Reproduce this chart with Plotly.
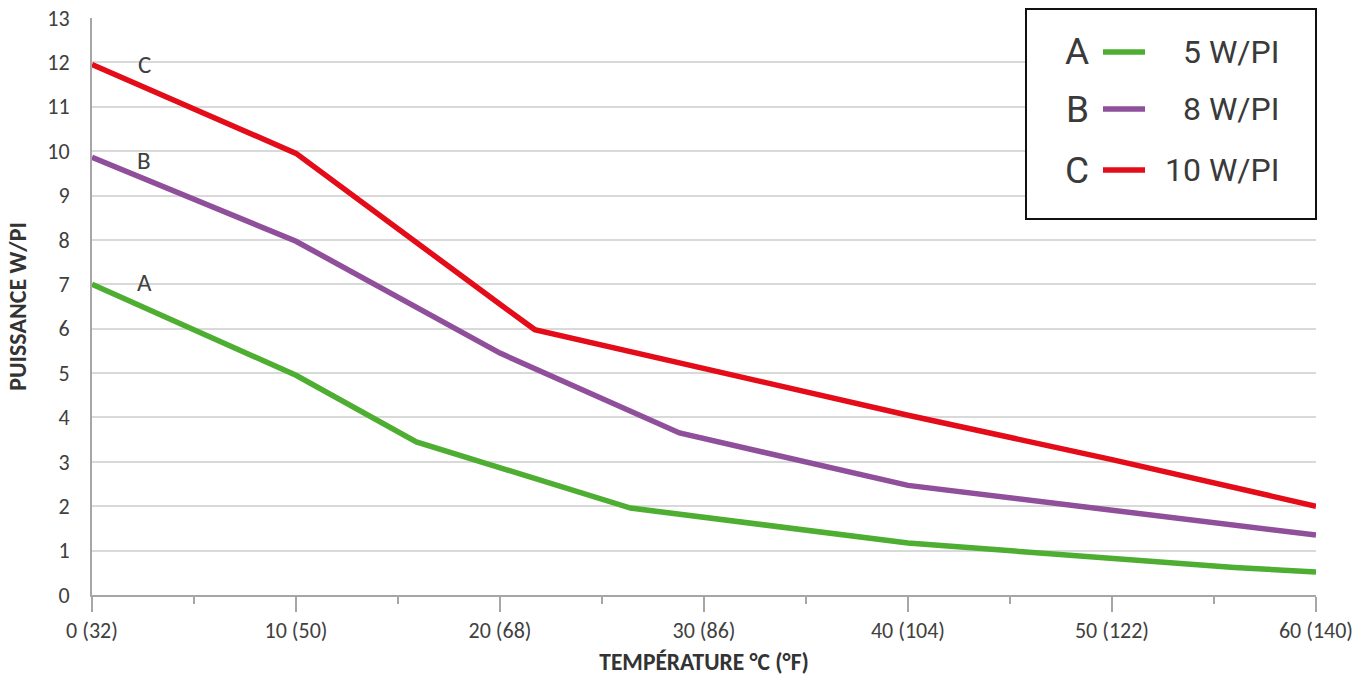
import plotly.graph_objects as go

# ---- data ----
temp_a = [0, 10, 15.9, 26.4, 40, 50, 56, 60]
power_a = [7.0, 4.95, 3.45, 1.96, 1.17, 0.83, 0.62, 0.52]

temp_b = [0, 10, 20, 28.8, 40, 50, 60]
power_b = [9.86, 7.97, 5.45, 3.65, 2.47, 1.92, 1.35]

temp_c = [0, 10, 20, 21.7, 40, 50, 60]
power_c = [11.95, 9.95, 6.55, 5.98, 4.05, 3.05, 2.0]

series_letters = ["A", "B", "C"]
series_names = ["5 W/PI", "8 W/PI", "10 W/PI"]
series_colors = ["#4dae32", "#8f4f9a", "#e30c18"]
label_pos_x = [2.55, 2.55, 2.55]
label_pos_y = [7.05, 9.8, 11.95]

x_tickvals = [0, 10, 20, 30, 40, 50, 60]
x_ticktext = ["0 (32)", "10 (50)", "20 (68)", "30 (86)", "40 (104)", "50 (122)", "60 (140)"]
y_tickvals = list(range(0, 14))

W, H = 1369, 679
ML, MR, MT, MB = 92, 53, 18, 84
PW = W - ML - MR
PH = H - MT - MB


def px_x(p):
    return (p - ML) / PW


def px_y(p):
    return (H - MB - p) / PH


xs = [temp_a, temp_b, temp_c]
ys = [power_a, power_b, power_c]

fig = go.Figure()
for i in range(3):
    fig.add_trace(go.Scatter(
        x=xs[i], y=ys[i], mode="lines", name=series_names[i],
        line=dict(color=series_colors[i], width=5.5),
        showlegend=False, hoverinfo="x+y",
    ))

FONT = "Carlito, Calibri, Lato, sans-serif"
tick_font = dict(family=FONT, size=22, color="#404040")

# series letters on the chart
for i in range(3):
    fig.add_annotation(x=label_pos_x[i], y=label_pos_y[i], text=series_letters[i],
                       xanchor="center", yanchor="middle",
                       showarrow=False, font=dict(family=FONT, size=25, color="#404040"))

# custom legend (letter, line sample, label) inside a black box
fig.add_shape(type="rect", xref="paper", yref="paper",
              x0=px_x(1026), x1=px_x(1316), y0=px_y(219), y1=px_y(9),
              line=dict(color="#111111", width=2), fillcolor="white", layer="above")
legend_rows_px = [52, 109, 170]
for i in range(3):
    yc = px_y(legend_rows_px[i])
    fig.add_annotation(xref="paper", yref="paper", x=px_x(1077), y=yc,
                       xanchor="center", yanchor="middle",
                       text=series_letters[i], showarrow=False,
                       font=dict(family="Roboto, sans-serif", size=37, color="#3a3a3a"))
    fig.add_shape(type="line", xref="paper", yref="paper",
                  x0=px_x(1103), x1=px_x(1145), y0=yc, y1=yc,
                  line=dict(color=series_colors[i], width=5.5), layer="above")
    fig.add_annotation(xref="paper", yref="paper", x=px_x(1281), y=yc,
                       xanchor="right", yanchor="middle",
                       text=series_names[i], showarrow=False,
                       font=dict(family="Roboto, sans-serif", size=32, color="#3a3a3a"))

fig.update_layout(
    width=W, height=H,
    margin=dict(l=ML, r=MR, t=MT, b=MB, autoexpand=False),
    plot_bgcolor="white", paper_bgcolor="white",
    showlegend=False,
)
fig.update_xaxes(
    range=[0, 60], tickvals=x_tickvals, ticktext=x_ticktext,
    showgrid=False, zeroline=False, automargin=False,
    showline=True, linecolor="#a6a6a6", linewidth=2,
    ticks="outside", ticklen=15, tickwidth=2, tickcolor="#a6a6a6",
    minor=dict(dtick=5, tick0=0, ticks="outside", ticklen=7, tickwidth=2, tickcolor="#a6a6a6"),
    tickfont=tick_font,
    title=dict(text="<b>TEMPÉRATURE °C (°F)</b>", standoff=10,
               font=dict(family=FONT, size=23.5, color="#333333")),
)
fig.update_yaxes(
    range=[0, 13], tickvals=y_tickvals, automargin=False,
    showgrid=True, gridcolor="#d9d9d9", gridwidth=2,
    zeroline=False,
    showline=True, linecolor="#a6a6a6", linewidth=2,
    ticks="", ticklabelstandoff=16,
    tickfont=tick_font,
    title=dict(text="<b>PUISSANCE W/PI</b>", standoff=14,
               font=dict(family=FONT, size=24, color="#333333")),
)

fig.write_html("out.html", config={"displayModeBar": False},
               post_script="document.body.style.margin='0';")
